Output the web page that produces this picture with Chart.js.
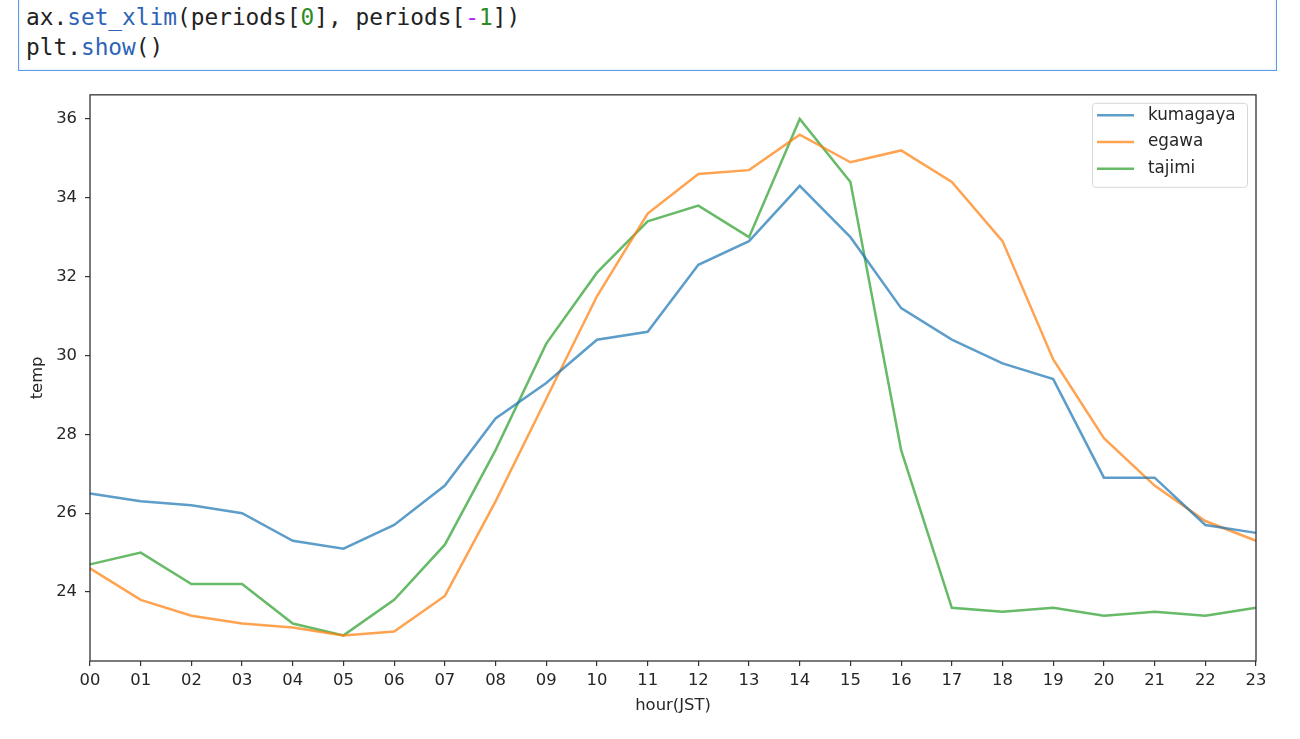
<!DOCTYPE html>
<html>
<head>
<meta charset="utf-8">
<script src="https://cdn.jsdelivr.net/npm/chart.js@4.4.1/dist/chart.umd.min.js"></script>
<style>
  html, body { margin:0; padding:0; background:#fff; width:1300px; height:739px; overflow:hidden; }
  #cell { position:absolute; left:18px; top:-10px; width:1259px; height:81px;
          border:1.5px solid #5b9ae6; box-sizing:border-box; background:#fff;
          box-shadow: inset 0 0 3px rgba(91,154,230,0.25); }
  #code { position:absolute; left:26px; top:3px; margin:0;
          font-family:"DejaVu Sans Mono", monospace; font-size:22.8px; line-height:29.5px; color:#222; }
  .p { color:#2e63b8; } .n { color:#2e8b1e; } .o { color:#aa22ff; }
  #wrap { position:absolute; left:0; top:77px; width:1300px; height:653px; }
</style>
</head>
<body>
<div id="cell"></div>
<pre id="code">ax.<span class="p">set_xlim</span>(periods[<span class="n">0</span>], periods[<span class="o">-</span><span class="n">1</span>])
plt.<span class="p">show</span>()</pre>
<div id="wrap"><canvas id="c"></canvas></div>
<script>
const hours = ['00','01','02','03','04','05','06','07','08','09','10','11','12','13','14','15','16','17','18','19','20','21','22','23'];
const kumagaya = [26.5,26.3,26.2,26.0,25.3,25.1,25.7,26.7,28.4,29.3,30.4,30.6,32.3,32.9,34.3,33.0,31.2,30.4,29.8,29.4,26.9,26.9,25.7,25.5];
const egawa    = [24.6,23.8,23.4,23.2,23.1,22.9,23.0,23.9,26.3,28.9,31.5,33.6,34.6,34.7,35.6,34.9,35.2,34.4,32.9,29.9,27.9,26.7,25.8,25.3];
const tajimi   = [24.7,25.0,24.2,24.2,23.2,22.9,23.8,25.2,27.6,30.3,32.1,33.4,33.8,33.0,36.0,34.4,27.6,23.6,23.5,23.6,23.4,23.5,23.4,23.6];
const yTicks = [24,26,28,30,32,34,36];
const seriesNames = ['kumagaya','egawa','tajimi'];
const seriesColors = ['rgba(31,119,180,0.72)','rgba(255,127,14,0.72)','rgba(44,160,44,0.72)'];

const FONT = '"DejaVu Sans", sans-serif';
Chart.defaults.font.family = FONT;
Chart.defaults.color = '#262626';

const framePlugin = {
  id: 'frame',
  afterDatasetsDraw(chart) {
    const {ctx, chartArea: a} = chart;
    ctx.save();
    ctx.strokeStyle = '#333';
    ctx.lineWidth = 1.3;
    ctx.strokeRect(a.left, a.top, a.right - a.left, a.bottom - a.top);
    ctx.restore();
  }
};

const legendPlugin = {
  id: 'mplLegend',
  afterDraw(chart) {
    const {ctx, chartArea: a} = chart;
    const ds = chart.data.datasets;
    const boxR = a.right - 9, boxT = a.top + 8, boxW = 155, boxH = 84;
    const boxL = boxR - boxW;
    ctx.save();
    ctx.fillStyle = 'rgba(255,255,255,0.8)';
    ctx.strokeStyle = '#d6d6d6';
    ctx.lineWidth = 1;
    ctx.beginPath();
    ctx.roundRect(boxL + 0.5, boxT + 0.5, boxW, boxH, 3);
    ctx.fill(); ctx.stroke();
    ctx.font = '16.8px ' + FONT;
    ctx.textBaseline = 'middle';
    ctx.fillStyle = '#262626';
    ds.forEach((d, i) => {
      const y = boxT + 12.5 + i * 26.7;
      ctx.strokeStyle = d.borderColor;
      ctx.lineWidth = 2.5;
      ctx.beginPath();
      ctx.moveTo(boxL + 5, y);
      ctx.lineTo(boxL + 42, y);
      ctx.stroke();
      ctx.fillText(d.label, boxL + 56, y);
    });
    ctx.restore();
  }
};

const datasets = [kumagaya, egawa, tajimi].map((vals, i) => ({
  label: seriesNames[i],
  data: vals,
  borderColor: seriesColors[i],
  backgroundColor: seriesColors[i],
  borderWidth: 2.5,
  pointRadius: 0,
  tension: 0,
  fill: false
}));

new Chart(document.getElementById('c'), {
  type: 'line',
  data: { labels: hours, datasets },
  plugins: [framePlugin, legendPlugin],
  options: {
    responsive: true,
    maintainAspectRatio: false,
    animation: false,
    layout: { padding: { left: 0, right: 44, top: 14, bottom: 9 } },
    plugins: { legend: { display: false }, tooltip: { enabled: false } },
    scales: {
      x: {
        type: 'category',
        offset: false,
        afterFit: s => { s.height = 60; },
        grid: { drawOnChartArea: false, drawTicks: true, tickLength: 5, color: '#333', lineWidth: 1.2 },
        border: { display: false },
        ticks: { autoSkip: false, maxRotation: 0, minRotation: 0, padding: 5, font: { size: 16.4 }, color: '#262626' },
        title: { display: true, text: 'hour(JST)', font: { size: 16.4 }, color: '#262626', padding: { top: 0, bottom: 5 } }
      },
      y: {
        min: 22.25,
        max: 36.61,
        afterFit: s => { s.width = 90; },
        afterBuildTicks: s => { s.ticks = yTicks.map(v => ({ value: v })); },
        grid: { drawOnChartArea: false, drawTicks: true, tickLength: 5, color: '#333', lineWidth: 1.2 },
        border: { display: false },
        ticks: { padding: 8, font: { size: 16.4 }, color: '#262626' },
        title: { display: true, text: 'temp', font: { size: 16.4 }, color: '#262626', padding: { top: 28, bottom: 0 } }
      }
    }
  }
});
</script>
</body>
</html>
